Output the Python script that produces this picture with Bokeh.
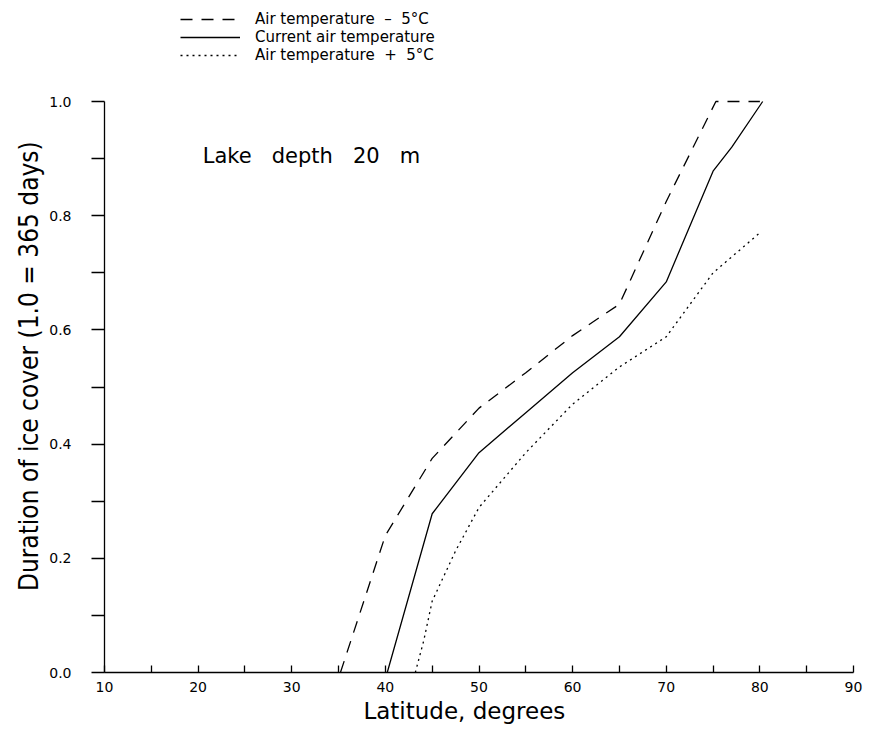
from bokeh.plotting import figure
from bokeh.models import Range1d, Legend, LegendItem, Label, FixedTicker, CustomJSTickFormatter
from bokeh.embed import file_html
from bokeh.resources import INLINE

# Data
lat_minus = [35.2, 40, 45, 50, 55, 60, 65, 70, 75.3, 80]
dur_minus = [0.0, 0.24, 0.375, 0.463, 0.525, 0.59, 0.645, 0.825, 1.0, 1.0]

lat_cur = [40.2, 45, 50, 55, 60, 65, 70, 75, 77, 80.3]
dur_cur = [0.0, 0.278, 0.385, 0.455, 0.525, 0.588, 0.684, 0.878, 0.92, 1.0]

lat_plus = [43.2, 44.1, 45, 47.5, 50, 55, 60, 65, 70, 75, 80]
dur_plus = [0.0, 0.056, 0.125, 0.213, 0.289, 0.385, 0.47, 0.535, 0.588, 0.70, 0.77]

NB = "\u00a0"
labels = ["Air temperature" + NB + NB + "\u2013" + NB + NB + "5\u00b0C",
          "Current air temperature",
          "Air temperature" + NB + NB + "+" + NB + NB + "5\u00b0C"]
x_ticks = [10, 20, 30, 40, 50, 60, 70, 80, 90]
x_minor = [15, 25, 35, 45, 55, 65, 75, 85]
y_ticks = [0.0, 0.2, 0.4, 0.6, 0.8, 1.0]
y_minor = [0.1, 0.3, 0.5, 0.7, 0.9]

FONT = "DejaVu Sans"
NARROW = "'DejaVu Sans Condensed', 'Liberation Sans Narrow', 'Roboto', sans-serif"
INK = "black"

# frame extends above 1.0 so the legend can sit inside it; the axis is bounded to 0..1
p = figure(frame_width=749, frame_height=672, output_backend="svg", toolbar_location=None,
           x_range=Range1d(10, 90), y_range=Range1d(0, 1.0 + 101 / 571),
           min_border_left=104, min_border_right=17, min_border_top=0, min_border_bottom=57)
p.outline_line_color = None
p.grid.grid_line_color = None
p.background_fill_color = "white"
p.border_fill_color = "white"

r1 = p.line(lat_minus, dur_minus, line_color=INK, line_width=1.3, line_dash="12 9")
r2 = p.line(lat_cur, dur_cur, line_color=INK, line_width=1.3)
r3 = p.line(lat_plus, dur_plus, line_color=INK, line_width=1.3, line_dash="2 4")

# axes
xa = p.xaxis[0]
xa.ticker = FixedTicker(ticks=x_ticks, minor_ticks=x_minor)
xa.major_tick_in = 7
xa.major_tick_out = 0
xa.minor_tick_in = 7
xa.minor_tick_out = 0
xa.axis_line_width = 1.3
xa.major_tick_line_width = 1.3
xa.minor_tick_line_width = 1.3
xa.axis_line_color = INK
xa.major_tick_line_color = INK
xa.minor_tick_line_color = INK
xa.major_label_text_font = FONT
xa.major_label_text_font_size = "14px"
xa.major_label_text_color = INK
xa.major_label_standoff = 9
xa.axis_label = "Latitude, degrees" + NB * 4
xa.axis_label_text_font = FONT
xa.axis_label_text_font_style = "normal"
xa.axis_label_text_font_size = "23px"
xa.axis_label_text_color = INK
xa.axis_label_standoff = 3

ya = p.yaxis[0]
ya.bounds = (0, 1.0)
ya.ticker = FixedTicker(ticks=y_ticks, minor_ticks=y_minor)
ya.formatter = CustomJSTickFormatter(code="return tick.toFixed(1);")
ya.major_tick_in = 0
ya.major_tick_out = 13
ya.minor_tick_in = 0
ya.minor_tick_out = 13
ya.axis_line_width = 1.3
ya.major_tick_line_width = 1.3
ya.minor_tick_line_width = 1.3
ya.axis_line_color = INK
ya.major_tick_line_color = INK
ya.minor_tick_line_color = INK
ya.major_label_text_font = FONT
ya.major_label_text_font_size = "14px"
ya.major_label_text_color = INK
ya.major_label_standoff = 20
ya.axis_label = "Duration of ice cover (1.0 = 365 days)" + NB * 8
ya.axis_label_text_font = NARROW
ya.axis_label_text_font_style = "normal"
ya.axis_label_text_font_size = "26px"
ya.axis_label_text_color = INK
ya.axis_label_standoff = 2

gap = NB * 3
p.add_layout(Label(x=20.5, y=0.905,
                   text="Lake" + gap + "depth" + gap + "20" + gap + "m",
                   text_font=FONT, text_font_size="21px", text_color=INK,
                   text_baseline="middle"))

legend = Legend(items=[LegendItem(label=labels[0], renderers=[r1]),
                       LegendItem(label=labels[1], renderers=[r2]),
                       LegendItem(label=labels[2], renderers=[r3])],
                location=(76, 608), orientation="vertical",
                glyph_width=60, glyph_height=16, label_height=16, spacing=0,
                label_standoff=15, padding=0, margin=0,
                border_line_color=None, background_fill_alpha=0,
                label_text_font=FONT, label_text_font_size="15px",
                label_text_color=INK, label_text_line_height=1.0)
p.add_layout(legend, "center")

open("out.html", "w").write(file_html(p, INLINE))
